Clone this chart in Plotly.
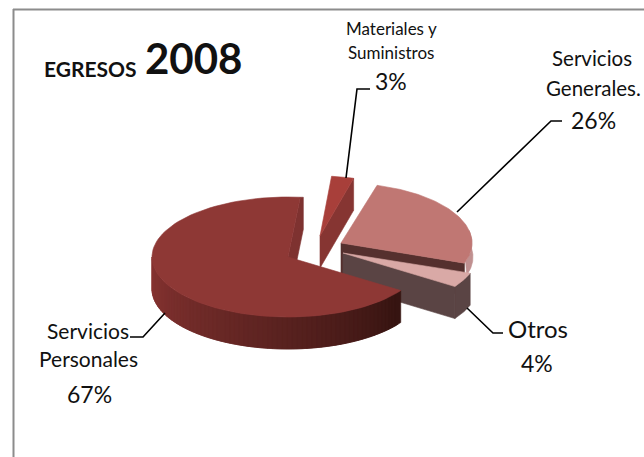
import math
import plotly.graph_objects as go

# ---- data ----
categories = ["Servicios Personales", "Materiales y Suministros", "Servicios Generales.", "Otros"]
values = [67, 3, 26, 4]

# ---- drawing parameters ----
label_lines = [["Servicios", "Personales"], ["Materiales y", "Suministros"], ["Servicios", "Generales."], ["Otros"]]
top_colors = ["#8e3835", "#a83f3a", "#c07773", "#d9a9a6"]
cut_colors = ["#7e3230", "#863532", "#55302e", "#5a4444"]
side_colors = ["#6a2a27", "#863532", "#c09090", "#5a4444"]
centers = [(288, 257), (320, 236), (341, 243), (343, 253)]
radii_x = [136, 122, 131, 135]
RY = 60
DEPTH = 32
START = 124.0


def rim(c, rx, a):
    t = math.radians(a)
    return (c[0] + rx * math.sin(t), c[1] - RY * math.cos(t))


def poly(fig, pts, color):
    xs = [p[0] for p in pts] + [pts[0][0]]
    ys = [p[1] for p in pts] + [pts[0][1]]
    fig.add_trace(go.Scatter(x=xs, y=ys, mode="lines", fill="toself", fillcolor=color,
                             line=dict(color=color, width=0.6), hoverinfo="skip", showlegend=False))


def lerp_color(a, b, t):
    ca = [int(a[i:i + 2], 16) for i in (1, 3, 5)]
    cb = [int(b[i:i + 2], 16) for i in (1, 3, 5)]
    return "#" + "".join(f"{round(x + (y - x) * t):02x}" for x, y in zip(ca, cb))


def arc(c, rx, a0, a1, n=40):
    return [rim(c, rx, a0 + (a1 - a0) * i / n) for i in range(n + 1)]


fig = go.Figure()

# slice angle ranges, clockwise from the top
spans = []
a = START
for v in values:
    spans.append((a, a + v * 3.6))
    a += v * 3.6

# draw back to front: Materiales, Generales, Otros, Personales
for i in (1, 2, 3, 0):
    c, rx = centers[i], radii_x[i]
    a0, a1 = spans[i]
    e = rim(c, rx, a1)
    if i == 0:
        # end cut face (seen as a narrow strip beside the gap)
        poly(fig, [c, e, (e[0] + 3, e[1]), (e[0] + 3, e[1] + DEPTH), (c[0] + 3, c[1] + DEPTH)], cut_colors[0])
        # outer wall with horizontal shading; strips run from the left so each overlaps the next
        n = 70
        hi = min(a1, 270)
        for k in range(n):
            t0 = hi - (hi - a0) * (k + 1) / n
            pts = arc(c, rx, t0, hi if k == 0 else t0 + (hi - a0) * 2 / n, 3)
            s = 1 - k / (n - 1)
            col = lerp_color("#361411", "#8a3533", s ** 0.9)
            poly(fig, pts + [(p[0], p[1] + DEPTH) for p in reversed(pts)], col)
    elif i == 1:
        poly(fig, [c, e, (e[0], e[1] + DEPTH), (c[0], c[1] + DEPTH)], cut_colors[i])
    elif i == 2:
        pts = arc(c, rx, 78, 108)
        poly(fig, pts + [(p[0] + 1, p[1] + 14) for p in reversed(pts)], side_colors[i])
        poly(fig, [c, e, (e[0], e[1] + DEPTH), (c[0], c[1] + DEPTH)], cut_colors[i])
    else:
        pts = arc(c, rx, a0, a1, 10)
        poly(fig, pts + [(p[0], p[1] + DEPTH) for p in reversed(pts)], side_colors[i])
        poly(fig, [c, e, (e[0], e[1] + DEPTH), (c[0], c[1] + DEPTH)], cut_colors[i])
    poly(fig, [c] + arc(c, rx, a0, a1, 90), top_colors[i])

# leader lines
leaders = [
    [(165, 313), (143, 337), (130, 337)],
    [(346, 178), (357, 89), (370, 89)],
    [(457, 212), (551, 121), (562, 121)],
    [(467, 308), (493, 333), (503, 333)],
]
for L in leaders:
    fig.add_trace(go.Scatter(x=[p[0] for p in L], y=[p[1] for p in L], mode="lines",
                             line=dict(color="#000000", width=1.6), hoverinfo="skip", showlegend=False))

FONT = "Lato"
ann = []


def text(x, y, s, size, bold=False):
    ann.append(dict(x=x, y=y, xref="x", yref="y", text=f"<b>{s}</b>" if bold else s, showarrow=False,
                    xanchor="center", yanchor="middle", font=dict(family=FONT, size=size, color="#111111")))


label_pos = [
    ([(88, 330), (88, 358)], (89, 394), 21, 23),
    ([(391, 28), (391, 52)], (391, 81), 17, 23),
    ([(592, 58), (593, 88)], (593, 120), 20.5, 23),
    ([(538, 328)], (537, 363), 24, 23),
]
for i in range(4):
    lines, pp, sz, psz = label_pos[i]
    for (x, y), s in zip(lines, label_lines[i]):
        text(x, y, s, sz)
    text(pp[0], pp[1], f"{values[i]}%", psz)

text(90, 68, "EGRESOS", 21, True)
text(193, 58, "2008", 42, True)

fig.update_layout(
    width=644, height=457, margin=dict(l=0, r=0, t=0, b=0),
    paper_bgcolor="#ffffff", plot_bgcolor="#ffffff", annotations=ann,
    xaxis=dict(range=[0, 644], visible=False, fixedrange=True),
    yaxis=dict(range=[457, 0], visible=False, fixedrange=True),
    shapes=[
        dict(type="line", x0=13.5, x1=13.5, y0=9, y1=457, line=dict(color="#8c8c8c", width=2)),
        dict(type="line", x0=13, x1=644, y0=9.5, y1=9.5, line=dict(color="#8c8c8c", width=2)),
    ],
)
fig.write_html("out.html", config={"displayModeBar": False},
               post_script="document.body.style.margin='0';document.documentElement.style.overflow='hidden';")
